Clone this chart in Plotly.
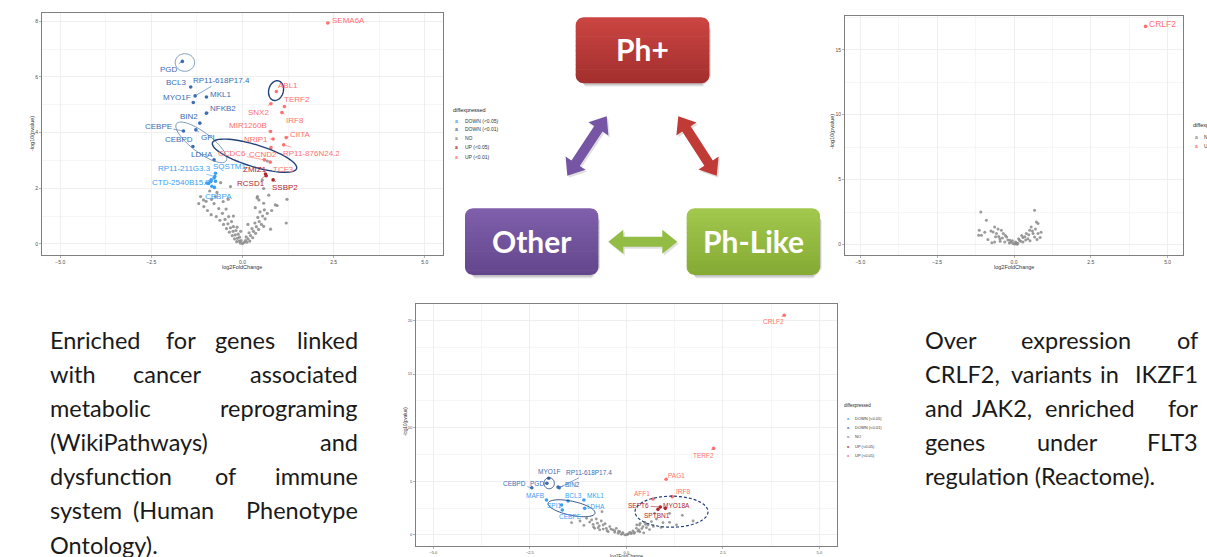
import numpy as np
import plotly.graph_objects as go

W, H = 1207, 557

D5, D1, NO, U5, U1 = "DOWN (<0.05)", "DOWN (<0.01)", "NO", "UP (<0.05)", "UP (<0.01)"
CATS = [D5, D1, NO, U5, U1]
COLORS = {D5: "#3A9FF5", D1: "#3A6DB3", NO: "#8A8A8A", U5: "#B0262B", U1: "#FF7070"}

# ---------------- Panel 1 (top left) ----------------
p1_genes = ["SEMA6A", "PGD", "BCL3", "RP11-618P17.4", "MYO1F", "MKL1", "NFKB2", "BIN2",
            "CEBPE", "GPI", "CEBPD", "LDHA", "SQSTM1", "RP11-211G3.3", "CTD-2540B15.7",
            "CEBPA", "ABL1", "TERF2", "SNX2", "IRF8", "MIR1260B", "NRIP1", "CIITA",
            "RP11-876N24.2", "CCDC6", "CCND2", "TCF3", "ZMIZ1", "RCSD1", "SSBP2"]
p1_logfc = [2.34, -1.65, -1.42, -1.30, -1.35, -0.99, -0.99, -1.17, -1.62, -1.28, -1.36, -0.78,
            -0.74, -0.76, -0.87, -0.77, 0.93, 1.15, 0.78, 1.08, 0.77, 0.84, 1.20, 1.13,
            0.60, 0.78, 0.76, 0.63, 0.65, 0.84]
p1_nlogp = [7.94, 6.56, 5.64, 5.32, 5.08, 5.28, 4.70, 4.34, 4.06, 4.10, 3.50, 3.02,
            2.54, 2.42, 2.24, 2.03, 5.48, 4.94, 5.04, 4.72, 4.04, 3.77, 3.82, 3.56,
            3.02, 3.46, 2.94, 2.51, 2.45, 2.30]
p1_cat = [U1, D1, D1, D1, D1, D1, D1, D1, D1, D1, D1, D1, D5, D5, D5, D5,
          U1, U1, U1, U1, U1, U1, U1, U1, U1, U1, U1, U5, U5, U5]
p1_label_x = [2.90, -2.01, -1.80, -0.57, -1.80, -0.61, -0.53, -1.48, -2.31, -0.96, -1.75, -1.12,
              -0.35, -1.58, -1.70, -0.66, 1.24, 1.50, 0.45, 1.43, 0.14, 0.37, 1.59, 1.90,
              -0.30, 0.57, 1.13, 0.33, 0.24, 1.17]
p1_label_y = [8.03, 6.26, 5.80, 5.88, 5.28, 5.38, 4.88, 4.58, 4.22, 3.82, 3.74, 3.23,
              2.78, 2.72, 2.22, 1.70, 5.68, 5.18, 4.74, 4.44, 4.24, 3.77, 3.95, 3.26,
              3.24, 3.20, 2.69, 2.69, 2.16, 2.02]
p1_down5_x = [-0.86, -0.78, -0.93, -0.84, -0.74, -0.98]
p1_down5_y = [2.30, 2.37, 2.17, 2.07, 2.25, 2.19]
p1_no_x = [-1.07, -0.74, -0.53, -0.60, -0.33, -0.39, -1.06, -1.00, -0.78, -0.96, -0.65, -0.86,
           -0.72, -0.55, -0.45, -0.62, -0.48, -0.38, -0.52, -0.40, -0.30, -0.44, -0.33, -0.25,
           -0.36, -0.26, -0.18, -0.28, -0.20, -0.12, -0.22, -0.14, -0.08, -0.16, -0.09, -0.04,
           -0.06, 0.00, 0.04, 0.08, 0.12, 0.15, 0.20, 0.10, 0.22, 0.28, 0.18, 0.30, 0.36, 0.26,
           0.38, 0.44, 0.34, 0.46, 0.52, 0.42, 0.55, 0.62, 0.48, 0.60, 0.68, 0.58, 0.77, 0.41,
           0.45, 0.58, 0.90, 0.95, 1.22, 0.58, 0.54, 0.68, 0.40, 0.72, -0.15, -0.70, -0.85,
           0.80, -1.20, 0.35, -0.25, 0.15, -0.05, 1.20, -1.15, -0.90]
p1_no_y = [1.58, 1.70, 1.52, 2.20, 2.06, 1.60, 1.34, 1.53, 1.45, 1.20, 1.27, 1.05,
           0.98, 1.10, 1.25, 0.85, 0.88, 0.98, 0.70, 0.72, 0.80, 0.55, 0.58, 0.62,
           0.42, 0.45, 0.48, 0.30, 0.32, 0.35, 0.18, 0.20, 0.24, 0.08, 0.10, 0.12,
           0.03, 0.01, 0.05, 0.12, 0.06, 0.18, 0.10, 0.25, 0.30, 0.22, 0.40, 0.45, 0.38, 0.55,
           0.62, 0.52, 0.75, 0.80, 0.70, 0.95, 1.00, 0.90, 1.15, 1.22, 1.10, 0.63, 0.53, 1.70,
           1.58, 1.46, 1.40, 1.38, 1.60, 1.99, 2.30, 2.98, 1.65, 1.75, 0.60, 1.85, 1.60,
           1.20, 1.45, 1.30, 1.00, 0.70, 0.45, 0.75, 1.70, 1.90]

# ---------------- Panel 2 (top right) ----------------
p2_genes = ["CRLF2"]
p2_logfc = [4.28]
p2_nlogp = [16.8]
p2_cat = [U1]
p2_label_x = [4.84]
p2_label_y = [16.99]
p2_no_x = [-1.08, -0.90, 0.67, 0.73, 0.78, -1.13, -1.15, -1.06, -0.63, -0.41, -0.68, -0.57,
           -0.35, -0.24, -0.13, -0.03, 0.07, 0.18, 0.29, 0.40, 0.51, 0.56, 0.62, 0.78, 0.67,
           0.45, -0.46, -0.63, -0.30, 0.29, -0.50, -0.38, -0.20, -0.10, 0.02, 0.12, 0.22,
           0.35, 0.48, 0.60, -0.75, -0.85, 0.85, 0.70, -0.52, -0.28, 0.15, 0.38, 0.05,
           -0.15, 0.88, -0.95, 0.25, -0.05, 0.10, -0.72, -0.45, 0.52, 0.75, -0.60]
p2_no_y = [2.52, 1.88, 2.65, 1.75, 1.62, 1.10, 0.72, 0.72, 1.36, 1.10, 0.97, 0.85,
           0.85, 0.59, 0.33, 0.08, 0.13, 0.33, 0.54, 0.85, 1.10, 1.36, 0.85, 0.85, 0.59,
           0.46, 0.46, 0.21, 0.21, 0.21, 0.62, 0.50, 0.35, 0.18, 0.04, 0.10, 0.26,
           0.60, 0.75, 1.05, 1.05, 0.40, 0.55, 1.20, 1.20, 0.70, 0.45, 0.35, 0.20,
           0.12, 0.95, 0.95, 0.70, 0.30, 0.02, 0.15, 0.25, 0.30, 0.40, 0.60]

# ---------------- Panel 3 (bottom centre) ----------------
p3_genes = ["CRLF2", "TERF2", "PAG1", "AFF1", "IRF8", "SEPT6", "MYO18A", "SPTBN1",
            "MYO1F", "PGD", "RP11-618P17.4", "BIN2", "CEBPD", "MAFB", "BCL3", "MKL1",
            "SPI1", "LDHA", "CEBPE"]
p3_logfc = [4.09, 2.26, 1.03, 0.69, 1.19, 0.88, 1.01, 0.82,
            -2.01, -2.06, -1.74, -1.77, -2.45, -2.07, -1.51, -1.10, -1.68, -1.08, -1.66]
p3_nlogp = [20.48, 8.07, 5.19, 3.35, 3.57, 2.61, 2.48, 2.39,
            5.28, 4.81, 4.40, 4.47, 4.40, 3.26, 3.17, 3.26, 2.79, 2.48, 2.33]
p3_cat = [U1, U1, U1, U1, U1, U5, U5, U5,
          D1, D1, D1, D1, D1, D5, D5, D5, D5, D5, D5]
p3_label_x = [3.81, 2.00, 1.29, 0.41, 1.46, 0.32, 1.31, 0.79,
              -2.00, -2.31, -0.97, -1.40, -2.90, -2.37, -1.38, -0.80, -1.88, -0.78, -1.44]
p3_label_y = [19.86, 7.45, 5.59, 3.82, 4.03, 2.73, 2.79, 1.80,
              5.90, 4.81, 5.80, 4.72, 4.78, 3.72, 3.72, 3.72, 2.73, 2.64, 1.70]
p3_no_x = [-1.42, -1.03, -0.90, -0.78, -0.63, -0.86, -0.82, -0.73, -0.69, -0.60, -0.52,
           -0.47, -0.43, -0.35, -0.30, -0.26, -0.21, -0.17, -0.13, -0.09, -0.04, 0.04, 0.09,
           0.13, 0.17, 0.21, 0.26, 0.27, 0.32, 0.36, 0.43, 0.48, 0.52, 0.56, 0.78, 0.95,
           1.12, 1.45, 1.73, 0.73, 1.12, -0.95, -0.75, -0.65, -0.55, -0.70, -0.50, -0.40,
           -0.60, -0.85, -0.30, -0.20, -0.10, 0.00, 0.05, 0.12, 0.20, 0.30, 0.40, 0.35, 0.60,
           0.50, 0.65, 0.45, 0.34, 0.90, 1.30, 0.70, -1.20, -1.10]
p3_no_y = [1.15, 1.55, 1.40, 1.49, 2.17, 0.99, 0.62, 0.68, 0.47, 0.93, 0.62,
           0.31, 0.78, 0.47, 0.25, 0.62, 0.16, 0.31, 0.06, 0.22, 0.00, 0.06, 0.25,
           0.12, 0.37, 0.25, 0.62, 0.93, 0.47, 1.09, 0.78, 1.18, 0.68, 0.93, 1.49, 1.15,
           1.18, 1.83, 1.30, 2.02, 2.02, 1.20, 1.10, 1.30, 1.05, 0.85, 0.40, 0.55,
           0.55, 0.75, 0.40, 0.35, 0.12, 0.02, 0.10, 0.20, 0.15, 0.35, 0.60, 0.30, 0.50,
           1.00, 1.25, 0.20, 0.93, 0.70, 0.95, 0.80, 1.30, 0.90]

# ---------------- Slide text ----------------
left_lines = [["Enriched", "for", "genes", "linked"],
              ["with", "cancer", "associated"],
              ["metabolic", "reprograming"],
              ["(WikiPathways)", "and"],
              ["dysfunction", "of", "immune"],
              ["system", "(Human", "Phenotype"],
              ["Ontology)."]]
left_word_x = [[48, 181, 245, 360], [48, 167, 360], [48, 360], [48, 360],
               [48, 225, 360], [48, 173, 360], [48]]
right_lines = [["Over", "expression", "of"],
               ["CRLF2,", "variants", "in", "IKZF1"],
               ["and", "JAK2,", "enriched", "for"],
               ["genes", "under", "FLT3"],
               ["regulation (Reactome)."]]
right_word_x = [[923, 1076, 1200], [923, 1051, 1109, 1200], [923, 1002, 1090, 1200],
                [923, 1067, 1200], [923]]

boxes = [("Ph+", 575.7, 17.3, 709.3, 83.3, "#CB4542", "#A22F2D"),
         ("Other", 465, 208.3, 598.3, 275, "#8060AC", "#62458C"),
         ("Ph-Like", 686.7, 208.3, 820, 275, "#A3C84E", "#84AA33")]
arrows = [((567.3, 175.7), (606.7, 116.3), "#7656A4"),
          ((678.3, 116.3), (716.7, 175.7), "#C03A36"),
          ((608.3, 241.7), (677.3, 241.7), "#93BC45")]

# ---------------- Layout geometry ----------------
PANELS = {
    1: dict(xd=(42, 443), yd=(13, 255), xr=(-5.5, 5.5), yr=(-0.4, 8.3), ydt=2, yminor=1, lab=8),
    2: dict(xd=(845, 1183), yd=(16, 255), xr=(-5.5, 5.5), yr=(-0.8, 17.6), ydt=5, yminor=2.5, lab=8.5),
    3: dict(xd=(416, 836.7), yd=(304.3, 545.7), xr=(-5.45, 5.45), yr=(-1.0, 21.5), ydt=5, yminor=2.5, lab=6.5),
}


def scales(k):
    p = PANELS[k]
    sx = (p["xd"][1] - p["xd"][0]) / (p["xr"][1] - p["xr"][0])
    sy = (p["yd"][1] - p["yd"][0]) / (p["yr"][1] - p["yr"][0])
    return sx, sy


def d2p(k, x, y):
    p = PANELS[k]
    sx, sy = scales(k)
    return p["xd"][0] + (x - p["xr"][0]) * sx, p["yd"][1] - (y - p["yr"][0]) * sy


def PX(x):
    return x / W


def PY(y):
    return 1 - y / H


fig = go.Figure()
shapes = []
annots = []
FONT = "Liberation Sans, Arial, sans-serif"


def paper_text(x, y, text, size, color, family=FONT, xanchor="center", angle=0):
    annots.append(dict(x=PX(x), y=PY(y), xref="paper", yref="paper", text=text,
                       xanchor=xanchor, yanchor="middle", textangle=angle, showarrow=False,
                       font=dict(family=family, size=size, color=color)))


def axname(k, a):
    return a if k == 1 else f"{a}{k}"


def add_points(k, xs, ys, cat, size):
    xa, ya = axname(k, "x"), axname(k, "y")
    fig.add_trace(go.Scatter(x=xs, y=ys, mode="markers", xaxis=xa, yaxis=ya,
                             marker=dict(size=size, color=COLORS[cat],
                                         opacity=0.85 if cat == NO else 1, line=dict(width=0)),
                             showlegend=False, hoverinfo="skip"))


def add_genes(k, genes, xs, ys, cats, lxs, lys):
    xa, ya = axname(k, "x"), axname(k, "y")
    for c in CATS:
        idx = [i for i, cc in enumerate(cats) if cc == c]
        if idx:
            add_points(k, [xs[i] for i in idx], [ys[i] for i in idx], c, 3.6)
    fs = PANELS[k]["lab"]
    for g, x, y, c, lx, ly in zip(genes, xs, ys, cats, lxs, lys):
        p0 = d2p(k, x, y)
        p1 = d2p(k, lx, ly)
        dist = np.hypot(p0[0] - p1[0], p0[1] - p1[1])
        if dist > 12:
            annots.append(dict(x=x, y=y, ax=lx, ay=ly, xref=xa, yref=ya, axref=xa, ayref=ya,
                               text=g, showarrow=True, arrowhead=0, arrowwidth=0.6,
                               arrowcolor=COLORS[c], standoff=1,
                               font=dict(family=FONT, size=fs, color=COLORS[c])))
        else:
            annots.append(dict(x=lx, y=ly, xref=xa, yref=ya, text=g, showarrow=False,
                               xanchor="center", yanchor="middle",
                               font=dict(family=FONT, size=fs, color=COLORS[c])))


add_points(1, p1_no_x, p1_no_y, NO, 3.2)
add_points(1, p1_down5_x, p1_down5_y, D5, 3.6)
add_genes(1, p1_genes, p1_logfc, p1_nlogp, p1_cat, p1_label_x, p1_label_y)
add_points(2, p2_no_x, p2_no_y, NO, 3.0)
add_genes(2, p2_genes, p2_logfc, p2_nlogp, p2_cat, p2_label_x, p2_label_y)
add_points(3, p3_no_x, p3_no_y, NO, 2.8)
add_genes(3, p3_genes, p3_logfc, p3_nlogp, p3_cat, p3_label_x, p3_label_y)

layout_axes = {}
for k, p in PANELS.items():
    common = dict(showline=True, mirror=True, linecolor="#7F7F7F", linewidth=1,
                  showgrid=True, gridcolor="#EBEBEB", gridwidth=0.8, zeroline=False,
                  ticks="outside", ticklen=2, tickcolor="#7F7F7F", tickwidth=0.6,
                  tickfont=dict(family=FONT, size=5 if k != 3 else 4, color="#4D4D4D"),
                  automargin=False, fixedrange=True)
    layout_axes["xaxis" if k == 1 else f"xaxis{k}"] = dict(
        common, domain=[PX(p["xd"][0]), PX(p["xd"][1])], range=list(p["xr"]),
        anchor=axname(k, "y"), tick0=0, dtick=2.5, tickformat=".1f",
        minor=dict(dtick=1.25, tick0=0, showgrid=True, gridcolor="#F4F4F4", ticks=""))
    layout_axes["yaxis" if k == 1 else f"yaxis{k}"] = dict(
        common, domain=[PY(p["yd"][1]), PY(p["yd"][0])], range=list(p["yr"]),
        anchor=axname(k, "x"), tick0=0, dtick=p["ydt"],
        minor=dict(dtick=p["yminor"], tick0=0, showgrid=True, gridcolor="#F4F4F4", ticks=""))

# axis titles
axis_titles = [(242, 266.5, 32, 134, 5.5), (1014, 266.5, 832, 132, 5.5), (626.7, 556, 405, 422, 4.5)]
for xtx, xty, ytx, yty, fs in axis_titles:
    paper_text(xtx, xty, "log2FoldChange", fs, "#333333")
    paper_text(ytx, yty, "-log10(pvalue)", fs, "#333333", angle=-90)


# legends
def legend(x0, y0, ys, cats, fs, keyx, textx):
    paper_text(x0, y0, "diffexpressed", fs + 0.5, "#222222", xanchor="left")
    for yy, c in zip(ys, cats):
        paper_text(keyx, yy, "<b>a</b>", fs, COLORS[c])
        paper_text(textx, yy, c, fs, "#333333", xanchor="left")


legend(450.5, 110, [120.7, 129.3, 138, 147.3, 156.7], CATS, 5, 456.7, 462.5)
legend(842.5, 405, [418.3, 427.7, 436.7, 446.3, 455], CATS, 4, 848.3, 852.5)
legend(1190.5, 125, [136.7, 145.7], [NO, U1], 5, 1196.7, 1202)

# ellipses (center in data units, semi-axes in pixels, angle in degrees)
ellipses = [(1, -1.58, 6.52, 9.7, 8.8, 0, "#5A7FA8", 0.8, "solid"),
            (1, 0.92, 5.51, 7.3, 10.0, 15, "#24427A", 1.4, "solid"),
            (1, -1.13, 3.65, 31, 10, 37, "#5A7FA8", 0.8, "solid"),
            (1, 0.33, 3.17, 44, 11, 17, "#24427A", 1.4, "solid"),
            (3, -2.00, 4.82, 5.2, 5.5, 0, "#24427A", 0.9, "solid"),
            (3, -1.42, 2.49, 24, 7, 12, "#24427A", 0.9, "solid"),
            (3, 1.17, 2.17, 36.5, 15.5, 0, "#24427A", 1.2, "dash")]
for k, cx, cy, a, b, ang, col, lw, dash in ellipses:
    sx, sy = scales(k)
    t = np.linspace(0, 2 * np.pi, 72)
    th = np.radians(ang)
    dx = a * np.cos(t) * np.cos(th) - b * np.sin(t) * np.sin(th)
    dy = a * np.cos(t) * np.sin(th) + b * np.sin(t) * np.cos(th)
    ex = cx + dx / sx
    ey = cy - dy / sy
    path = "M " + " L ".join(f"{u:.4f},{v:.4f}" for u, v in zip(ex, ey)) + " Z"
    shapes.append(dict(type="path", path=path, xref=axname(k, "x"), yref=axname(k, "y"),
                       line=dict(color=col, width=lw, dash=dash if dash == "solid" else "3px,2px")))


# ---------- diagram ----------
def hexmix(c1, c2, t):
    a = [int(c1[i:i + 2], 16) for i in (1, 3, 5)]
    b = [int(c2[i:i + 2], 16) for i in (1, 3, 5)]
    return "#" + "".join(f"{int(round(u + (v - u) * t)):02X}" for u, v in zip(a, b))


def inset(y, y0, y1, r):
    if y < y0 + r:
        d = y0 + r - y
    elif y > y1 - r:
        d = y - (y1 - r)
    else:
        return 0.0
    return r - np.sqrt(max(r * r - d * d, 0.0))


def rr_band(x0, y0, x1, y1, r, ya, yb):
    ys = np.linspace(ya, yb, 8)
    left = [(x0 + inset(y, y0, y1, r), y) for y in ys]
    right = [(x1 - inset(y, y0, y1, r), y) for y in ys[::-1]]
    pts = left + right
    return "M " + " L ".join(f"{PX(u):.5f},{PY(v):.5f}" for u, v in pts) + " Z"


for label, x0, y0, x1, y1, ctop, cbot in boxes:
    r = 8
    for off, alpha in ((3.5, 0.07), (2.5, 0.09), (1.5, 0.10)):
        shapes.append(dict(type="path", path=rr_band(x0 + off * 0.5, y0 + off, x1 + off * 0.5, y1 + off, r, y0 + off, y1 + off),
                           xref="paper", yref="paper", fillcolor=f"rgba(0,0,0,{alpha})", line=dict(width=0)))
    n = 14
    edges = np.linspace(y0, y1, n + 1)
    for i in range(n):
        ya, yb = edges[i], min(edges[i + 1] + 0.6, y1)
        shapes.append(dict(type="path", path=rr_band(x0, y0, x1, y1, r, ya, yb), xref="paper", yref="paper",
                           fillcolor=hexmix(ctop, cbot, (i + 0.5) / n), line=dict(width=0)))
    paper_text((x0 + x1) / 2, (y0 + y1) / 2 - 1, f"<b>{label}</b>", 30, "white",
               family="Lato, Open Sans, sans-serif")


def double_arrow(p0, p1, shaft=10, headw=24, headl=15):
    p0, p1 = np.array(p0, float), np.array(p1, float)
    u = (p1 - p0) / np.linalg.norm(p1 - p0)
    nrm = np.array([-u[1], u[0]])
    b0, b1 = p0 + u * headl, p1 - u * headl
    pts = [p0, b0 + nrm * headw / 2, b0 + nrm * shaft / 2, b1 + nrm * shaft / 2, b1 + nrm * headw / 2,
           p1, b1 - nrm * headw / 2, b1 - nrm * shaft / 2, b0 - nrm * shaft / 2, b0 - nrm * headw / 2]
    return pts


for p0, p1, col in arrows:
    sh = double_arrow((p0[0] + 1.5, p0[1] + 2), (p1[0] + 1.5, p1[1] + 2))
    shapes.append(dict(type="path", path="M " + " L ".join(f"{PX(a):.5f},{PY(b):.5f}" for a, b in sh) + " Z",
                       xref="paper", yref="paper", fillcolor="rgba(0,0,0,0.12)", line=dict(width=0)))
    pts = double_arrow(p0, p1)
    shapes.append(dict(type="path", path="M " + " L ".join(f"{PX(a):.5f},{PY(b):.5f}" for a, b in pts) + " Z",
                       xref="paper", yref="paper", fillcolor=col, line=dict(width=0)))

# ---------- paragraphs ----------
TXT_FONT = "Lato, Open Sans, sans-serif"
for lines, xs in ((left_lines, left_word_x), (right_lines, right_word_x)):
    for li, (words, wx) in enumerate(zip(lines, xs)):
        yc = 339.5 + li * 34.2
        for wi, (w, x) in enumerate(zip(words, wx)):
            if wi == 0:
                anc = "left"
            elif wi == len(words) - 1:
                anc = "right"
            else:
                anc = "center"
            paper_text(x, yc, w, 23.5, "#1A1A1A", family=TXT_FONT, xanchor=anc)

fig.update_layout(width=W, height=H, margin=dict(l=0, r=0, t=0, b=0), template="none",
                  paper_bgcolor="white", plot_bgcolor="white", showlegend=False,
                  shapes=shapes, annotations=annots, hovermode=False, **layout_axes)

fig.write_html("out.html", config={"displayModeBar": False, "staticPlot": True},
               post_script="document.body.style.margin='0';document.body.style.padding='0';")
